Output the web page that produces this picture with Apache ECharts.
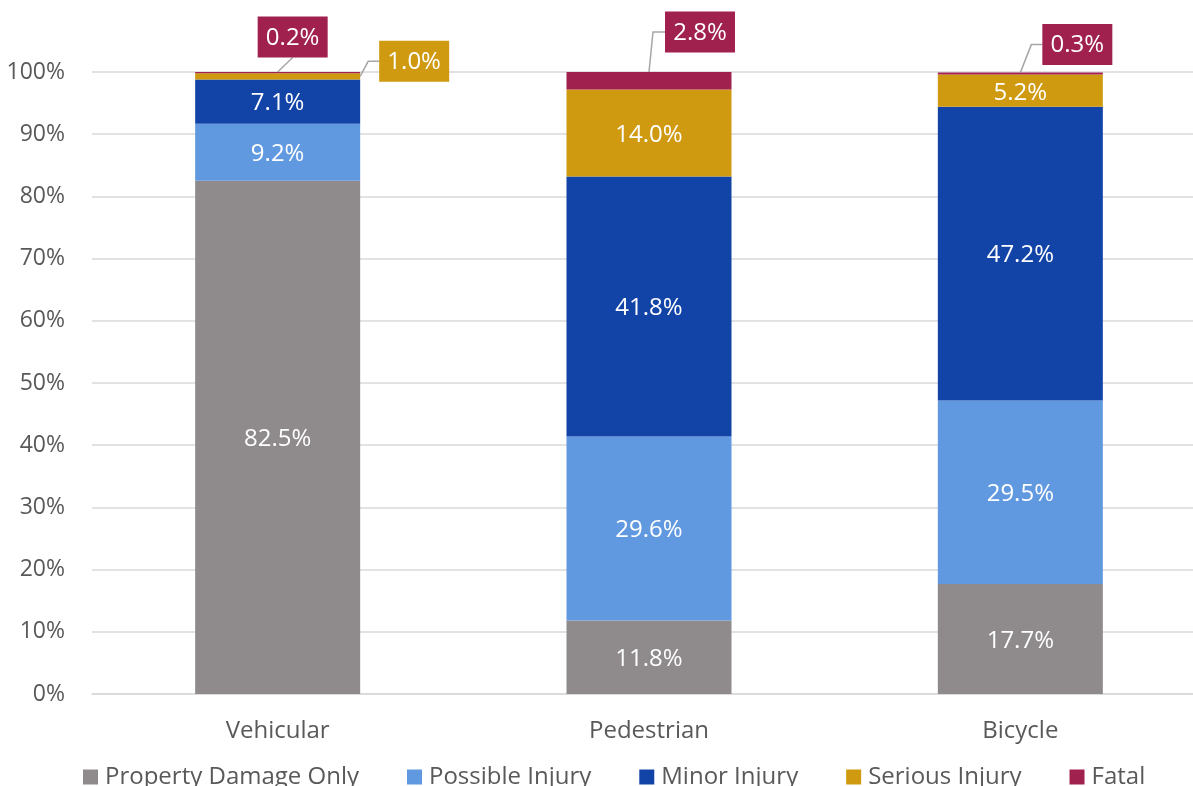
<!DOCTYPE html>
<html>
<head>
<meta charset="utf-8">
<title>Crash severity by mode</title>
<script src="https://cdn.jsdelivr.net/npm/echarts@6/dist/echarts.min.js"></script>
<style>
  html, body { margin: 0; padding: 0; background: #fff; }
  #chart { width: 1193px; height: 786px; }
</style>
</head>
<body>
<div id="chart"></div>
<script>
// share of crashes (%) by severity, per mode
const categories = ['Vehicular', 'Pedestrian', 'Bicycle'];
const propertyDamageOnly = [82.5, 11.8, 17.7];
const possibleInjury = [9.2, 29.6, 29.5];
const minorInjury = [7.1, 41.8, 47.2];
const seriousInjury = [1.0, 14.0, 5.2];
const fatal = [0.2, 2.8, 0.3];

const seriesNames = ['Property Damage Only', 'Possible Injury', 'Minor Injury', 'Serious Injury', 'Fatal'];
const seriesValues = [propertyDamageOnly, possibleInjury, minorInjury, seriousInjury, fatal];
const colors = ['#8f8a8b', '#6199e0', '#1244a8', '#cf9a10', '#a0214e'];

const yMin = 0;
const yMax = 100;
const yStep = 10;

// small segments get a boxed label outside the bar (series index, category index)
// side: where the leader starts on the segment; dx/dy: label centre from that point
const callouts = [
  { s: 4, c: 0, side: 'top', dx: 15, dy: -35, turn: 0 },
  { s: 3, c: 0, side: 'right', dx: 54, dy: -15, turn: 11 },
  { s: 4, c: 1, side: 'top', dx: 51, dy: -40, turn: 12 },
  { s: 4, c: 2, side: 'top', dx: 57, dy: -28, turn: 11 }
];

const BAR_W = 165;
const BOX_W = 70;
const BOX_H = 41;
const FONT = '"Open Sans", "Liberation Sans", sans-serif';

const fmt = v => v.toFixed(1) + '%';
const isCallout = (s, c) => callouts.some(o => o.s === s && o.c === c);

const barSeries = seriesNames.map((name, s) => ({
  name: name,
  type: 'bar',
  stack: 'total',
  barWidth: BAR_W,
  itemStyle: { color: colors[s] },
  label: {
    show: true,
    position: 'inside',
    offset: [0, 2],
    color: '#fff',
    fontSize: 24,
    fontFamily: FONT,
    formatter: p => fmt(p.value)
  },
  emphasis: { disabled: true },
  data: seriesValues[s].map((v, c) => isCallout(s, c) ? { value: v, label: { show: false } } : v)
}));

// anchor value for each callout = top (or middle) of its stacked segment
const calloutData = callouts.map((o, i) => {
  let base = 0;
  for (let k = 0; k < o.s; k++) base += seriesValues[k][o.c];
  const v = seriesValues[o.s][o.c];
  const y = o.side === 'right' ? base + v / 2 : base + v;
  return [o.c, y, v, i];
});

const calloutSeries = {
  type: 'custom',
  name: 'callouts',
  silent: true,
  z: 5,
  encode: { x: 0, y: 1 },
  data: calloutData,
  renderItem: (params, api) => {
    const o = callouts[api.value(3)];
    const p = api.coord([api.value(0), api.value(1)]);
    if (o.side === 'right') p[0] += BAR_W / 2;
    const cx = p[0] + o.dx;
    const cy = p[1] + o.dy;
    const pts = o.turn
      ? [p, [cx - BOX_W / 2 - o.turn, cy], [cx - BOX_W / 2, cy]]
      : [p, [cx, cy + BOX_H / 2]];
    return {
      type: 'group',
      children: [
        { type: 'polyline', shape: { points: pts }, style: { stroke: '#a6a6a6', lineWidth: 1.5, fill: null } },
        { type: 'rect', shape: { x: cx - BOX_W / 2, y: cy - BOX_H / 2, width: BOX_W, height: BOX_H }, style: { fill: colors[o.s] } },
        { type: 'text', x: cx, y: cy + 1, style: { text: fmt(api.value(2)), fill: '#fff', font: '24px ' + FONT, align: 'center', verticalAlign: 'middle' } }
      ]
    };
  }
};

const chart = echarts.init(document.getElementById('chart'), null, { renderer: 'canvas' });

// plot runs a little past the right edge, like the original export
chart.setOption({
  animation: false,
  textStyle: { fontFamily: FONT },
  grid: { left: 92, width: 1114, top: 72, bottom: 92, containLabel: false, outerBoundsMode: 'none' },
  legend: {
    data: seriesNames,
    left: 83,
    top: 763,
    padding: 0,
    icon: 'rect',
    itemWidth: 15,
    itemHeight: 15,
    itemGap: 48,
    selectedMode: false,
    textStyle: { color: '#595959', fontSize: 24, fontFamily: FONT, lineHeight: 28, padding: [0, 0, 0, 2] }
  },
  xAxis: {
    type: 'category',
    data: categories,
    axisLine: { lineStyle: { color: '#d9d9d9', width: 1.5 } },
    axisTick: { show: false },
    axisLabel: { color: '#595959', fontSize: 24, fontFamily: FONT, margin: 25 }
  },
  yAxis: {
    type: 'value',
    min: yMin,
    max: yMax,
    interval: yStep,
    axisLine: { show: false },
    axisTick: { show: false },
    axisLabel: { color: '#595959', fontSize: 23, fontFamily: FONT, margin: 27, formatter: '{value}%' },
    splitLine: { lineStyle: { color: '#d9d9d9', width: 1.5 } }
  },
  series: barSeries.concat([calloutSeries])
});
</script>
</body>
</html>
